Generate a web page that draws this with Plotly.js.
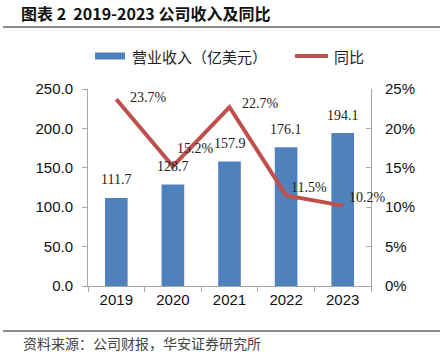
<!DOCTYPE html>
<html>
<head>
<meta charset="utf-8">
<script src="https://cdn.plot.ly/plotly-3.0.1.min.js"></script>
<style>html,body{margin:0;padding:0;background:#fff;}#chart{width:441px;height:356px;}</style>
</head>
<body>
<div id="chart"></div>
<script>
const years = ['2019', '2020', '2021', '2022', '2023'];
const revenue = [111.7, 128.7, 157.9, 176.1, 194.1];
const yoy = [23.7, 15.2, 22.7, 11.5, 10.2];
const revenueTicks = [0, 50, 100, 150, 200, 250];
const yoyTicks = [0, 5, 10, 15, 20, 25];

const L = 88, R = 371, T = 89, B = 286;
const px = x => (x - L) / (R - L);
const py = y => (B - y) / (B - T);

const serif = 'Liberation Serif, Times New Roman, serif';
const sans = 'Liberation Sans, Arial, sans-serif';
const cjk = 'Noto Sans CJK SC, sans-serif';

const pctShift = [[12, 2], [2, 18], [10, 4], [3, 8], [4, 8]];

const annotations = [];
years.forEach((y, i) => {
  annotations.push({x: i, y: revenue[i], xref: 'x', yref: 'y', text: revenue[i].toFixed(1),
    showarrow: false, yanchor: 'middle', yshift: 18, font: {family: serif, size: 14, color: '#222'}});
  annotations.push({x: i, y: yoy[i], xref: 'x', yref: 'y2', text: yoy[i].toFixed(1) + '%',
    showarrow: false, xanchor: 'left', yanchor: 'middle', xshift: pctShift[i][0], yshift: pctShift[i][1],
    font: {family: serif, size: 14, color: '#222'}});
});
annotations.push({xref: 'paper', yref: 'paper', x: px(130), y: py(56), xanchor: 'left', yanchor: 'middle',
  text: '营业收入（亿美元）', showarrow: false, font: {family: cjk, size: 15, color: '#222'}});
annotations.push({xref: 'paper', yref: 'paper', x: px(332), y: py(56), xanchor: 'left', yanchor: 'middle',
  text: '同比', showarrow: false, font: {family: cjk, size: 15, color: '#222'}});
annotations.push({xref: 'paper', yref: 'paper', x: px(21), y: py(343), xanchor: 'left', yanchor: 'middle',
  text: '资料来源：公司财报，华安证券研究所', showarrow: false, font: {family: cjk, size: 14, color: '#444'}});

const shapes = [
  {type: 'line', xref: 'paper', yref: 'paper', x0: px(3), x1: px(440), y0: py(27), y1: py(27), line: {color: '#666', width: 1.5}},
  {type: 'line', xref: 'paper', yref: 'paper', x0: px(3), x1: px(440), y0: py(331), y1: py(331), line: {color: '#666', width: 1.5}},
  {type: 'rect', xref: 'paper', yref: 'paper', x0: px(95), x1: px(125), y0: py(59.5), y1: py(52.5), fillcolor: '#4F81BD', line: {width: 0}},
  {type: 'line', xref: 'paper', yref: 'paper', x0: px(295), x1: px(328), y0: py(56), y1: py(56), line: {color: '#C0504D', width: 4}}
];

const data = [
  {type: 'bar', x: years, y: revenue, name: '营业收入（亿美元）', marker: {color: '#4F81BD'}, width: 0.4, hoverinfo: 'none'},
  {type: 'scatter', mode: 'lines', x: years, y: yoy, yaxis: 'y2', name: '同比', line: {color: '#C0504D', width: 4}, hoverinfo: 'none'}
];

const layout = {
  width: 441, height: 356,
  margin: {l: L, r: 441 - R, t: T, b: 356 - B, pad: 0},
  paper_bgcolor: '#fff', plot_bgcolor: '#fff',
  showlegend: false,
  title: {text: '<b>图表 2  2019-2023 公司收入及同比</b>', xref: 'container', yref: 'container', x: 21 / 441, xanchor: 'left',
    y: 1 - 14 / 356, yanchor: 'middle', font: {family: cjk, size: 16, color: '#111'}},
  xaxis: {type: 'category', range: [-0.5, 4.5], showline: true, linecolor: '#A6A6A6', linewidth: 1, ticks: 'outside', tickson: 'boundaries',
    ticklen: 5, tickcolor: '#A6A6A6', showgrid: false, zeroline: false, tickangle: 0, tickfont: {family: sans, size: 15, color: '#111'}},
  yaxis: {range: [0, 250], tickvals: revenueTicks, ticktext: revenueTicks.map(v => v.toFixed(1)), showline: true,
    linecolor: '#A6A6A6', ticks: 'outside', ticklen: 5, tickcolor: '#A6A6A6', showgrid: false, zeroline: false,
    tickfont: {family: sans, size: 15, color: '#111'}, ticklabelstandoff: 6},
  yaxis2: {range: [0, 25], overlaying: 'y', side: 'right', tickvals: yoyTicks, ticktext: yoyTicks.map(v => v + '%'),
    showline: true, linecolor: '#A6A6A6', ticks: 'inside', ticklen: 5, tickcolor: '#A6A6A6', showgrid: false, zeroline: false,
    tickfont: {family: sans, size: 15, color: '#111'}, ticklabelstandoff: 10},
  annotations: annotations,
  shapes: shapes
};

Plotly.newPlot('chart', data, layout, {staticPlot: true, displayModeBar: false});
</script>
</body>
</html>
